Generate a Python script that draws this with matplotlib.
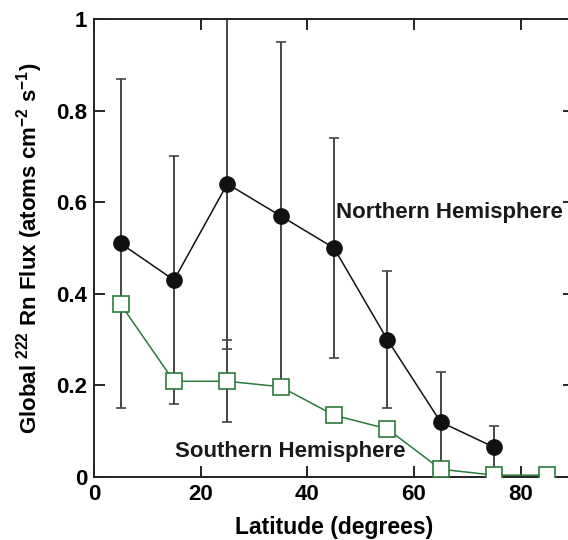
import matplotlib
matplotlib.use("Agg")
import matplotlib.pyplot as plt

plt.rcParams['font.family'] = ['Liberation Sans', 'DejaVu Sans']
plt.rcParams['font.weight'] = 'bold'
plt.rcParams['mathtext.fontset'] = 'custom'
plt.rcParams['mathtext.rm'] = 'Liberation Sans:bold'
plt.rcParams['mathtext.bf'] = 'Liberation Sans:bold'
plt.rcParams['mathtext.it'] = 'Liberation Sans:bold'

# Data
nh_lat = [5, 15, 25, 35, 45, 55, 65, 75]
nh_flux = [0.51, 0.43, 0.64, 0.57, 0.50, 0.30, 0.12, 0.065]
nh_err = [0.36, 0.27, 0.36, 0.38, 0.24, 0.15, 0.11, 0.047]

sh_lat = [5, 15, 25, 35, 45, 55, 65, 75, 85]
sh_flux = [0.377, 0.209, 0.209, 0.197, 0.135, 0.105, 0.017, 0.004, 0.004]
sh_err = [0, 0, 0.09, 0, 0, 0, 0, 0, 0]

x_ticks = [0, 20, 40, 60, 80]
y_ticks = [0, 0.2, 0.4, 0.6, 0.8, 1]
y_ticklabels = ['0', '0.2', '0.4', '0.6', '0.8', '1']

green = '#2a7a3b'

fig = plt.figure(figsize=(5.68, 5.40), dpi=100)
ax = fig.add_axes([94/568, 63/540, (574-94)/568, (477-19)/540])

ax.errorbar(sh_lat, sh_flux, yerr=sh_err, fmt='none', ecolor='#444444',
            elinewidth=1.4, capsize=3.5, capthick=1.2, zorder=1)
ax.errorbar(nh_lat, nh_flux, yerr=nh_err, fmt='none', ecolor='#444444',
            elinewidth=1.4, capsize=3.5, capthick=1.2, zorder=1)

ax.plot(sh_lat, sh_flux, color=green, lw=1.1, marker='s', ms=11,
        mfc='white', mec=green, mew=1.2, zorder=3)
ax.plot(nh_lat, nh_flux, color='#111111', lw=1.1, marker='o', ms=11,
        mfc='#111111', mec='#111111', zorder=4)

ax.text(45.4, 0.577, 'Northern Hemisphere', fontsize=16, fontweight='bold',
        color='#1a1a1a', ha='left', va='center', zorder=5)
ax.text(15.2, 0.055, 'Southern Hemisphere', fontsize=16, fontweight='bold',
        color='#1a1a1a', ha='left', va='center', zorder=5)

ax.set_xlim(0, 90)
ax.set_ylim(0, 1)
ax.set_xticks(x_ticks)
ax.set_yticks(y_ticks)
ax.set_yticklabels(y_ticklabels)
ax.tick_params(direction='in', length=8, width=1.2, top=True, right=True,
               labelsize=16, pad=5)
for lab in ax.get_xticklabels() + ax.get_yticklabels():
    lab.set_fontweight('bold')
for s in ax.spines.values():
    s.set_linewidth(1.4)
    s.set_color('#222222')

ax.set_xlabel('Latitude (degrees)', fontsize=16.5, fontweight='bold', labelpad=8)
ax.set_ylabel(r'Global $^{222}$ Rn Flux (atoms cm$^{-2}$ s$^{-1}$)',
              fontsize=16, fontweight='bold', labelpad=8)

fig.savefig('out.png', dpi=100)
